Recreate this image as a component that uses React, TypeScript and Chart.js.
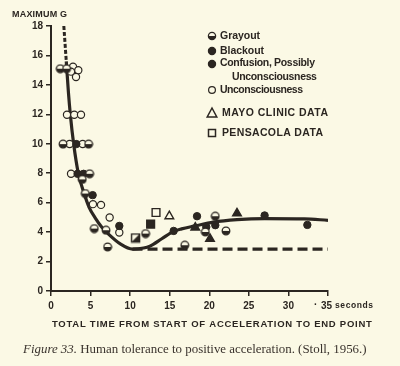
import React, { useEffect, useRef } from "react";
import { Chart, registerables } from "chart.js";

Chart.register(...registerables);

const INK = "#2b2621";
const BG = "#fbf9e5";

// ---- data (seconds, maximum G) ----
const grayoutX = [1.17, 1.97, 1.52, 4.75, 4.88, 3.95, 4.33, 5.47, 6.95, 7.15, 11.95, 16.9, 19.5, 20.76, 22.11];
const grayoutY = [15.1, 15.1, 9.98, 9.98, 7.96, 7.58, 6.62, 4.24, 4.13, 2.99, 3.9, 3.11, 4.01, 5.08, 4.08];
const blackoutX = [3.2, 3.36, 4.12, 5.26, 15.5, 19.62, 20.76];
const blackoutY = [9.98, 7.96, 7.96, 6.51, 4.08, 4.35, 4.47];
const confusionX = [8.63, 18.45, 26.99, 32.39];
const confusionY = [4.42, 5.08, 5.13, 4.49];
const unconsciousX = [2.78, 2.53, 3.45, 3.16, 2.02, 2.94, 3.79, 2.35, 4.0, 2.53, 5.3, 6.32, 7.41, 8.63];
const unconsciousY = [15.24, 14.9, 15.0, 14.54, 11.97, 11.97, 11.97, 9.98, 9.98, 7.96, 5.9, 5.85, 4.99, 3.97];
const mayoX = [14.95, 18.23, 20.09, 23.5];
const mayoY = [5.08, 4.31, 3.54, 5.27];
const mayoFill = ["open", "filled", "filled", "filled"];
const pensacolaX = [10.69, 12.59, 13.27];
const pensacolaY = [3.6, 4.54, 5.33];
const pensacolaFill = ["half", "filled", "open"];

const curveX = [1.93, 2.2, 2.44, 2.86, 3.45, 4.2, 4.8, 5.6, 6.4, 7.3, 8.76, 10.3, 11.7, 12.5, 14.0, 15.5, 16.5, 18.2, 20.5, 23.5, 27, 32, 35];
const curveY = [15.6, 13.5, 12.0, 10.0, 8.0, 6.6, 5.7, 4.95, 4.35, 3.85, 3.2, 2.85, 2.92, 3.05, 3.55, 4.05, 4.22, 4.42, 4.68, 4.85, 4.92, 4.9, 4.8];
const topDashX = [1.62, 1.93];
const topDashY = [18, 15.6];
const limitX = [10.3, 35];
const limitY = [2.85, 2.85];

const xTicks = [0, 5, 10, 15, 20, 25, 30, 35];
const yTicks = [0, 2, 4, 6, 8, 10, 12, 14, 16, 18];

const pts = (xs: number[], ys: number[]) => xs.map((x, i) => ({ x, y: ys[i] }));

function makeCanvas(size: number, draw: (ctx: CanvasRenderingContext2D, c: number) => void) {
  const cv = document.createElement("canvas");
  cv.width = size;
  cv.height = size;
  const ctx = cv.getContext("2d")!;
  draw(ctx, size / 2);
  return cv;
}

function drawGray(ctx: CanvasRenderingContext2D, x: number, y: number, r: number) {
  ctx.save();
  ctx.fillStyle = BG;
  ctx.beginPath();
  ctx.arc(x, y, r, 0, Math.PI * 2);
  ctx.fill();
  ctx.fillStyle = INK;
  ctx.beginPath();
  ctx.arc(x, y, r, 0, Math.PI);
  ctx.closePath();
  ctx.fill();
  ctx.strokeStyle = INK;
  ctx.lineWidth = 1.3;
  ctx.beginPath();
  ctx.arc(x, y, r, 0, Math.PI * 2);
  ctx.stroke();
  ctx.restore();
}

function drawCircle(ctx: CanvasRenderingContext2D, x: number, y: number, r: number, filled: boolean) {
  ctx.save();
  ctx.fillStyle = filled ? INK : BG;
  ctx.strokeStyle = INK;
  ctx.lineWidth = 1.2;
  ctx.beginPath();
  ctx.arc(x, y, r, 0, Math.PI * 2);
  ctx.fill();
  ctx.stroke();
  ctx.restore();
}

function fitText(ctx: CanvasRenderingContext2D, text: string, x: number, y: number, width: number, font: string) {
  ctx.save();
  ctx.font = font;
  (ctx as any).letterSpacing = "0px";
  const w = ctx.measureText(text).width;
  const sp = (width - w) / Math.max(1, text.length - 1);
  (ctx as any).letterSpacing = sp.toFixed(2) + "px";
  ctx.fillText(text, x, y);
  ctx.restore();
}

export default function App() {
  const ref = useRef<HTMLCanvasElement | null>(null);

  useEffect(() => {
    document.body.style.margin = "0";
    document.body.style.background = BG;
    const canvas = ref.current!;

    const grayImg = makeCanvas(10, (ctx, c) => drawGray(ctx, c, c, 3.8));
    const halfSquare = makeCanvas(11, (ctx) => {
      ctx.fillStyle = BG;
      ctx.fillRect(1, 1, 9, 9);
      ctx.fillStyle = INK;
      ctx.beginPath();
      ctx.moveTo(10, 1);
      ctx.lineTo(10, 10);
      ctx.lineTo(1, 10);
      ctx.closePath();
      ctx.fill();
      ctx.strokeStyle = INK;
      ctx.lineWidth = 1.4;
      ctx.strokeRect(1.5, 1.5, 8, 8);
    });

    const overlay = {
      id: "overlay",
      beforeDraw(chart: any) {
        const ctx = chart.ctx;
        ctx.save();
        ctx.fillStyle = BG;
        ctx.fillRect(0, 0, chart.width, chart.height);
        ctx.restore();
      },
      afterDraw(chart: any) {
        const ctx: CanvasRenderingContext2D = chart.ctx;
        ctx.save();
        ctx.fillStyle = INK;
        ctx.textBaseline = "middle";
        ctx.textAlign = "left";
        fitText(ctx, "MAXIMUM G", 12, 15, 55, "bold 9px 'Liberation Sans'");

        // legend
        const lf = "bold 10.5px 'Liberation Sans'";
        drawGray(ctx, 212, 36, 3.6);
        fitText(ctx, "Grayout", 220, 36, 40, lf);
        drawCircle(ctx, 212, 51, 3.6, true);
        fitText(ctx, "Blackout", 220, 51, 44, lf);
        drawCircle(ctx, 212, 64, 3.6, true);
        fitText(ctx, "Confusion, Possibly", 220, 63, 95, lf);
        fitText(ctx, "Unconsciousness", 232, 77, 85, lf);
        drawCircle(ctx, 212, 90, 3.4, false);
        fitText(ctx, "Unconsciousness", 220, 90, 83, lf);
        ctx.strokeStyle = INK;
        ctx.lineWidth = 1.5;
        ctx.beginPath();
        ctx.moveTo(212, 108);
        ctx.lineTo(216.8, 117);
        ctx.lineTo(207.2, 117);
        ctx.closePath();
        ctx.stroke();
        fitText(ctx, "MAYO CLINIC DATA", 222, 113, 106, "bold 10.5px 'Liberation Sans'");
        ctx.strokeRect(208.5, 129.5, 7, 7);
        fitText(ctx, "PENSACOLA DATA", 222, 133, 101, "bold 10.5px 'Liberation Sans'");

        // 35 seconds label
        ctx.font = "bold 10px 'Liberation Sans'";
        ctx.fillText("·", 314, 305);
        ctx.fillText("35", 321, 306);
        fitText(ctx, "seconds", 335, 306, 38, "bold 8.5px 'Liberation Sans'");

        // x title
        fitText(ctx, "TOTAL TIME FROM START OF ACCELERATION TO END POINT", 52, 324, 320, "bold 9.5px 'Liberation Sans'");

        // caption
        const base = 13;
        ctx.textBaseline = "alphabetic";
        ctx.font = `italic ${base}px 'Liberation Serif'`;
        const w1 = ctx.measureText("Figure 33.").width;
        ctx.font = `${base}px 'Liberation Serif'`;
        const rest = " Human tolerance to positive acceleration. (Stoll, 1956.)";
        const w2 = ctx.measureText(rest).width;
        const s = base * 344 / (w1 + w2);
        ctx.fillStyle = "#3a332d";
        ctx.font = `italic ${s}px 'Liberation Serif'`;
        ctx.fillText("Figure 33.", 23, 353);
        const w1s = ctx.measureText("Figure 33.").width;
        ctx.font = `${s}px 'Liberation Serif'`;
        ctx.fillText(rest, 23 + w1s, 353);
        ctx.restore();
      },
    };

    const tickFont = { family: "'Liberation Sans'", size: 10, weight: "bold" as const };

    const chart = new Chart(canvas, {
      type: "scatter",
      data: {
        datasets: [
          {
            label: "Grayout",
            data: pts(grayoutX, grayoutY),
            pointStyle: grayImg as any,
            pointRadius: 4,
            order: 0,
          },
          {
            label: "Blackout",
            data: pts(blackoutX, blackoutY),
            pointStyle: "circle",
            pointRadius: 3.7,
            backgroundColor: INK,
            borderColor: INK,
            borderWidth: 1,
            order: 0,
          },
          {
            label: "Confusion, Possibly Unconsciousness",
            data: pts(confusionX, confusionY),
            pointStyle: "circle",
            pointRadius: 3.7,
            backgroundColor: INK,
            borderColor: INK,
            borderWidth: 1,
            order: 0,
          },
          {
            label: "Unconsciousness",
            data: pts(unconsciousX, unconsciousY),
            pointStyle: "circle",
            pointRadius: 3.6,
            backgroundColor: BG,
            borderColor: INK,
            borderWidth: 1.2,
            order: 0,
          },
          {
            label: "MAYO CLINIC DATA",
            data: pts(mayoX, mayoY),
            pointStyle: "triangle",
            pointRadius: 5,
            backgroundColor: mayoFill.map((f) => (f === "open" ? BG : INK)),
            borderColor: INK,
            borderWidth: 1.4,
            order: 0,
          },
          {
            label: "PENSACOLA DATA",
            data: pts(pensacolaX, pensacolaY),
            pointStyle: pensacolaFill.map((f) => (f === "half" ? (halfSquare as any) : "rect")),
            pointRadius: 5.5,
            backgroundColor: pensacolaFill.map((f) => (f === "open" ? BG : INK)),
            borderColor: INK,
            borderWidth: 1.4,
            order: 0,
          },
          {
            label: "Tolerance curve",
            data: pts(curveX, curveY),
            showLine: true,
            pointRadius: 0,
            borderColor: INK,
            borderWidth: 3.2,
            cubicInterpolationMode: "monotone",
            order: 1,
          },
          {
            label: "Upper extension",
            data: pts(topDashX, topDashY),
            showLine: true,
            pointRadius: 0,
            borderColor: INK,
            borderWidth: 3,
            borderDash: [4, 2],
            order: 1,
          },
          {
            label: "Limit",
            data: pts(limitX, limitY),
            showLine: true,
            pointRadius: 0,
            borderColor: INK,
            borderWidth: 3.2,
            borderDash: [10, 5],
            order: 1,
          },
        ],
      },
      options: {
        responsive: false,
        animation: false,
        devicePixelRatio: 1,
        layout: { padding: { top: 26, right: 72, bottom: 0, left: 0 } },
        plugins: {
          legend: { display: false },
          tooltip: { enabled: false },
        },
        scales: {
          x: {
            type: "linear",
            min: 0,
            max: 35,
            afterBuildTicks: (axis: any) => {
              axis.ticks = xTicks.map((v) => ({ value: v }));
            },
            afterFit: (axis: any) => {
              axis.height = 75;
            },
            ticks: {
              color: INK,
              font: tickFont,
              padding: 4,
              callback: (v: any) => (v === 35 ? "" : String(v)),
            },
            grid: { drawOnChartArea: false, drawTicks: true, tickLength: 5, color: INK, lineWidth: 1.5 },
            border: { display: true, color: INK, width: 2 },
          },
          y: {
            type: "linear",
            min: 0,
            max: 18,
            afterBuildTicks: (axis: any) => {
              axis.ticks = yTicks.map((v) => ({ value: v }));
            },
            afterFit: (axis: any) => {
              axis.width = 51;
            },
            ticks: { color: INK, font: tickFont, padding: 3 },
            grid: { drawOnChartArea: false, drawTicks: true, tickLength: 5, color: INK, lineWidth: 1.5 },
            border: { display: true, color: INK, width: 2 },
          },
        },
      },
      plugins: [overlay],
    } as any);

    return () => chart.destroy();
  }, []);

  return <canvas ref={ref} width={400} height={366} style={{ display: "block", width: 400, height: 366 }} />;
}
